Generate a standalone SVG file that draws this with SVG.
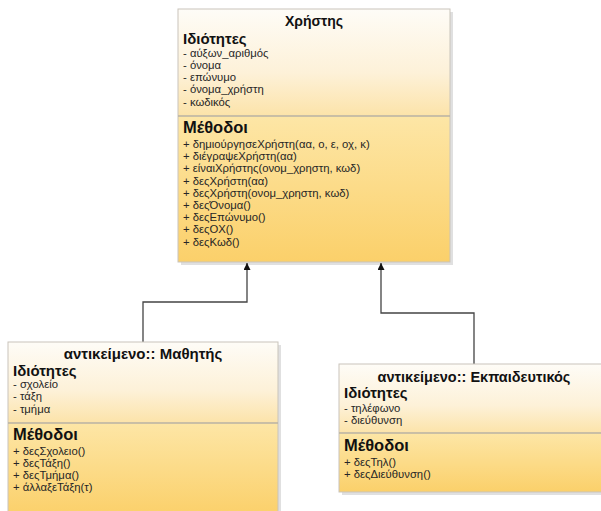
<svg xmlns="http://www.w3.org/2000/svg" width="601" height="511" viewBox="0 0 601 511">
<defs>
<linearGradient id="gTop" x1="0" y1="0" x2="0" y2="1">
<stop offset="0" stop-color="#fefcf7"/>
<stop offset="0.6" stop-color="#fdf1d8"/>
<stop offset="1" stop-color="#fce3a9"/>
</linearGradient>
<linearGradient id="gBot" x1="0" y1="0" x2="0" y2="1">
<stop offset="0" stop-color="#fde6a6"/>
<stop offset="1" stop-color="#fbd06a"/>
</linearGradient>
<marker id="arr" viewBox="0 0 10 10" refX="10" refY="5" markerWidth="7" markerHeight="7" orient="auto" markerUnits="userSpaceOnUse">
<path d="M0,0 L10,5 L0,10 z" fill="#111"/>
</marker>
</defs>
<style>
.box{stroke:#c9c4bb;stroke-width:1}
.shadow{fill:#000;opacity:0.12}
.div{stroke:#b9b2a4;stroke-width:1.5}
.title{font-family:"Liberation Sans",Arial,sans-serif;font-weight:bold;font-size:14px;fill:#111;text-anchor:middle}
.hdr{font-family:"Liberation Sans",Arial,sans-serif;font-weight:bold;font-size:15px;fill:#111}
.mhdr{font-family:"Liberation Sans",Arial,sans-serif;font-weight:bold;font-size:16.5px;fill:#111}
.item{font-family:"Liberation Sans",Arial,sans-serif;font-size:11.3px;fill:#262626}
.conn{fill:none;stroke:#444;stroke-width:1.3}
</style>
<rect width="601" height="511" fill="#ffffff"/>

<g id="connectors">
<path class="conn" d="M143,342 V302 H247 V263" marker-end="url(#arr)"/>
<path class="conn" d="M474,364 V313 H381 V263" marker-end="url(#arr)"/>
</g>

<g id="xristis">
<rect class="shadow" x="181" y="12" width="272" height="253"/>
<rect x="178" y="9" width="272" height="107" fill="url(#gTop)"/>
<rect x="178" y="116" width="272" height="146" fill="url(#gBot)"/>
<rect class="box" x="178" y="9" width="272" height="253" fill="none"/>
<line class="div" x1="178" y1="116" x2="450" y2="116"/>
<text class="title" x="314" y="26">Χρήστης</text>
<text class="hdr" x="183" y="44">Ιδιότητες</text>
<text class="item" x="183" y="57">- αύξων_αριθμός</text>
<text class="item" x="183" y="69">- όνομα</text>
<text class="item" x="183" y="81">- επώνυμο</text>
<text class="item" x="183" y="93">- όνομα_χρήστη</text>
<text class="item" x="183" y="106">- κωδικός</text>
<text class="mhdr" x="183" y="133">Μέθοδοι</text>
<text class="item" x="183" y="148">+ δημιούργησεΧρήστη(αα, ο, ε, οχ, κ)</text>
<text class="item" x="183" y="160">+ διέγραψεΧρήστη(αα)</text>
<text class="item" x="183" y="172">+ είναιΧρήστης(ονομ_χρηστη, κωδ)</text>
<text class="item" x="183" y="185">+ δεςΧρήστη(αα)</text>
<text class="item" x="183" y="197">+ δεςΧρήστη(ονομ_χρηστη, κωδ)</text>
<text class="item" x="183" y="209">+ δεςΌνομα()</text>
<text class="item" x="183" y="221">+ δεςΕπώνυμο()</text>
<text class="item" x="183" y="233">+ δεςΟΧ()</text>
<text class="item" x="183" y="246">+ δεςΚωδ()</text>
</g>

<g id="mathitis">
<rect class="shadow" x="11" y="345" width="270" height="170"/>
<rect x="8" y="342" width="270" height="81" fill="url(#gTop)"/>
<rect x="8" y="423" width="270" height="92" fill="url(#gBot)"/>
<rect class="box" x="8" y="342" width="270" height="173" fill="none"/>
<line class="div" x1="8" y1="423" x2="278" y2="423"/>
<text class="title" x="143" y="359" style="font-size:15px">αντικείμενο:: Μαθητής</text>
<text class="hdr" x="13" y="376">Ιδιότητες</text>
<text class="item" x="13" y="388">- σχολείο</text>
<text class="item" x="13" y="400">- τάξη</text>
<text class="item" x="13" y="413">- τμήμα</text>
<text class="mhdr" x="13" y="440">Μέθοδοι</text>
<text class="item" x="13" y="455">+ δεςΣχολειο()</text>
<text class="item" x="13" y="467">+ δεςΤάξη()</text>
<text class="item" x="13" y="479">+ δεςΤμήμα()</text>
<text class="item" x="13" y="491">+ άλλαξεΤάξη(τ)</text>
</g>

<g id="ekpaideftikos">
<rect class="shadow" x="342" y="367" width="271" height="128"/>
<rect x="339" y="364" width="271" height="69" fill="url(#gTop)"/>
<rect x="339" y="433" width="271" height="59" fill="url(#gBot)"/>
<rect class="box" x="339" y="364" width="271" height="128" fill="none"/>
<line class="div" x1="339" y1="433" x2="610" y2="433"/>
<text class="title" x="474" y="382" style="font-size:14.5px">αντικείμενο:: Εκπαιδευτικός</text>
<text class="hdr" x="344" y="398">Ιδιότητες</text>
<text class="item" x="344" y="412">- τηλέφωνο</text>
<text class="item" x="344" y="424">- διεύθυνση</text>
<text class="mhdr" x="344" y="451">Μέθοδοι</text>
<text class="item" x="344" y="466">+ δεςΤηλ()</text>
<text class="item" x="344" y="478">+ δεςΔιεύθυνση()</text>
</g>
</svg>
